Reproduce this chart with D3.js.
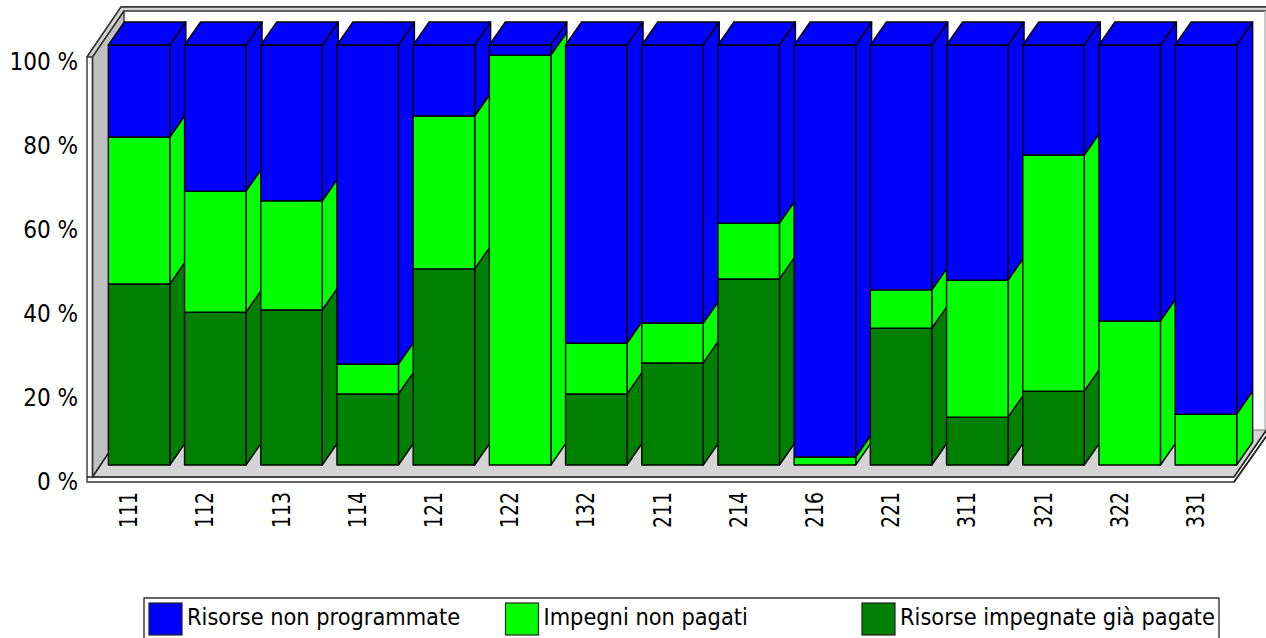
<!DOCTYPE html>
<html><head><meta charset="utf-8">
<script src="https://cdn.jsdelivr.net/npm/d3@7"></script>
<style>html,body{margin:0;padding:0;background:#fff;overflow:hidden}svg{display:block}text{font-family:"DejaVu Sans";font-stretch:condensed;fill:#000}</style>
</head><body><svg id="c" width="1266" height="638"></svg>
<script>
const categories=["111","112","113","114","121","122","132","211","214","216","221","311","321","322","331"];
const paid=[43.1,36.4,36.9,16.9,46.7,0,16.9,24.3,44.3,0,32.6,11.4,17.6,0,0];
const unpaid=[35,28.8,26,7.1,36.4,97.6,12.1,9.5,13.3,1.9,9.1,32.6,56.2,34.3,12.1];
const unprogrammed=[21.9,34.8,37.1,76,16.9,2.4,71,66.2,42.4,98.1,58.3,56,26.2,65.7,87.9];
const yTicks=[0,20,40,60,80,100];
const legendNames=["Risorse non programmate","Impegni non pagati","Risorse impegnate già pagate"];
const colors={paid:"#008000",unpaid:"#00ff00",unprogrammed:"#0000ff"};

const svg=d3.select("#c");
const dx=16,dy=-23;
const bx0=108,bw=61.5,pitch=76.2;
const x=d3.scaleBand().domain(categories).range([bx0-7,bx0+pitch*15-7]).paddingInner(0).paddingOuter(0);
const y=d3.scaleLinear().domain([0,100]).range([465,45]);
const ya=d3.scaleLinear().domain([0,100]).range([477,57]);
const barX=c=>x(c)+(x.bandwidth()-bw)/2;
const pts=a=>a.map(p=>p.join(",")).join(" ");
function poly(a,f,s,w){return svg.append("polygon").attr("points",pts(a)).attr("fill",f)
 .attr("stroke",s||"#000").attr("stroke-width",w||1.4).attr("stroke-linejoin","round");}
function seg(x1,y1,x2,y2,s,w){svg.append("line").attr("x1",x1).attr("y1",y1).attr("x2",x2).attr("y2",y2).attr("stroke",s||"#222").attr("stroke-width",w||1.5);}
const L=92.5,R=1234,T=57,B=477,BX=124,BY=430,TY=11;
// outer frame
poly([[87,T],[121,7],[1270,7],[1270,431],[1234,482],[87,482]],"#fff","#333");
poly([[87,T],[121,7],[1270,7],[1270,TY],[BX,TY],[L,T]],"#d4d4d4","#333");
// inner right gray edge of back wall
seg(1265,TY,1265,BY,"#b8b8b8",1.5);
// walls
poly([[L,T],[BX,TY],[BX,BY],[L,B]],"#c0c0c0","#333");
poly([[L,B],[BX,BY],[1266,BY],[R,B]],"#d4d4d4","#999");
seg(87,B,R,B,"#222",1.6);
seg(L,B,BX,BY,"#222",1.4);
seg(L,T,L,B,"#333",1.4);
seg(R,B,1270,425,"#222",1.6);
seg(R,482,1270,431,"#222",1.6);

const seriesDefs=[["paid",paid],["unpaid",unpaid],["unprogrammed",unprogrammed]];
categories.forEach((c,i)=>{
 const xl=barX(c),xr=xl+bw;let acc=0;
 seriesDefs.forEach(([k,v])=>{
  const val=v[i];if(val<=0)return;
  const y0=y(acc),y1=y(acc+val);acc+=val;
  poly([[xr,y0],[xr+dx,y0+dy],[xr+dx,y1+dy],[xr,y1]],colors[k]);
  poly([[xl,y0],[xr,y0],[xr,y1],[xl,y1]],colors[k]);
  if(k==="unprogrammed")poly([[xl,y1],[xr,y1],[xr+dx,y1+dy],[xl+dx,y1+dy]],colors[k]);
 });
});
// axis labels
const gy=svg.append("g").attr("transform","translate(87,3.5)")
 .call(d3.axisLeft(ya).tickValues(yTicks).tickSize(0).tickPadding(9).tickFormat(d=>d+" %"));
gy.select(".domain").remove();
gy.selectAll("text").attr("font-size",24).attr("dy","0.36em").attr("font-family",null).style("font-family",'"DejaVu Sans"');
svg.append("g").selectAll("text").data(categories).join("text")
 .attr("transform",c=>`translate(${barX(c)+bw/2-2},528) rotate(-90)`)
 .attr("text-anchor","start").attr("font-size",24)
 .attr("textLength",36).attr("lengthAdjust","spacingAndGlyphs").text(c=>c);
// legend
poly([[144,598],[1219,598],[1219,650],[144,650]],"#fff","#333");
const lx=[149,505.5,862],lk=["unprogrammed","unpaid","paid"];
legendNames.forEach((n,i)=>{
 svg.append("rect").attr("x",lx[i]).attr("y",603).attr("width",33).attr("height",32).attr("fill",colors[lk[i]]).attr("stroke","#222").attr("stroke-width",1.2);
 svg.append("text").attr("x",lx[i]+38).attr("y",625).attr("font-size",23.3).text(n);
});
</script></body></html>
